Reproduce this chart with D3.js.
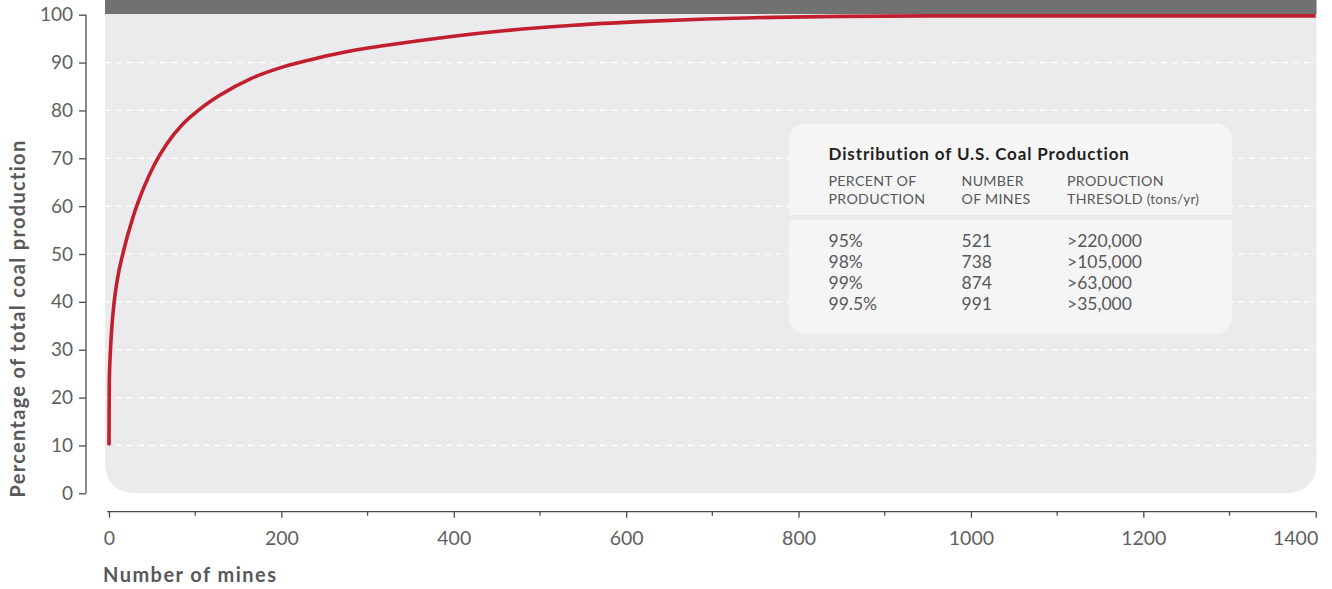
<!DOCTYPE html>
<html><head><meta charset="utf-8">
<script src="https://cdn.jsdelivr.net/npm/d3@7"></script>
<style>
html,body{margin:0;padding:0;background:#fff;}
svg{display:block;font-family:"Lato","Open Sans",sans-serif;}
</style></head>
<body>
<svg id="chart" width="1332" height="589"></svg>
<script>
// ---- data ----
const mines = [0, 0.3, 1.2, 3, 6, 10, 16, 28, 40, 53, 67, 86, 105, 128, 164, 202, 241, 280, 318, 357, 395, 461, 539, 616, 693, 770, 848, 950, 1100, 1250, 1400];
const percent = [10, 23, 28, 34, 40, 45, 50, 57.8, 63.7, 68.8, 73.0, 77.2, 80.2, 83.1, 86.6, 89.1, 90.9, 92.4, 93.5, 94.5, 95.4, 96.7, 97.8, 98.55, 99.1, 99.45, 99.65, 99.75, 99.75, 99.75, 99.75];
const xTicks = [0, 200, 400, 600, 800, 1000, 1200, 1400];
const xMinorTicks = [100, 300, 500, 700, 900, 1100, 1300];
const yTicks = [0, 10, 20, 30, 40, 50, 60, 70, 80, 90, 100];
const tableTitle = "Distribution of U.S. Coal Production";
const tableHeaders = [["PERCENT OF", "PRODUCTION"], ["NUMBER", "OF MINES"], ["PRODUCTION", "THRESOLD (tons/yr)"]];
const tablePercent = ["95%", "98%", "99%", "99.5%"];
const tableMines = ["521", "738", "874", "991"];
const tableThreshold = [">220,000", ">105,000", ">63,000", ">35,000"];
const xTitle = "Number of mines";
const yTitle = "Percentage of total coal production";

// ---- layout ----
const svg = d3.select("#chart");
const x = d3.scaleLinear().domain([0, 1400]).range([109, 1315.7]);
const y = d3.scaleLinear().domain([0, 100]).range([493.3, 14.7]);
const textCol = "#5f5f61";

function fitWidth(sel, target) {
  const n = sel.text().length;
  const L = sel.node().getComputedTextLength();
  sel.attr("letter-spacing", (target - L) / (n - 1));
}

// panel with rounded bottom corners
const pL = 105, pR = 1316.5, pT = 0, pB = y(0), r = 32;
svg.append("path")
  .attr("d", `M${pL},${pT}H${pR}V${pB - r}Q${pR},${pB} ${pR - r},${pB}H${pL + r}Q${pL},${pB} ${pL},${pB - r}Z`)
  .attr("fill", "#ebebed");

// gridlines
svg.append("g").selectAll("line").data(yTicks.filter(d => d > 0 && d < 100)).join("line")
  .attr("x1", pL).attr("x2", pR)
  .attr("y1", d => y(d)).attr("y2", d => y(d))
  .attr("stroke", "#ffffff").attr("stroke-width", 1.2).attr("stroke-dasharray", "6,5");

// table box
const tb = {x: 789, y: 123.5, w: 443, h: 210};
svg.append("rect").attr("x", tb.x).attr("y", tb.y).attr("width", tb.w).attr("height", tb.h)
  .attr("rx", 16).attr("fill", "#f5f5f6");
svg.append("rect").attr("x", tb.x).attr("y", 215).attr("width", tb.w).attr("height", 5)
  .attr("fill", "#ebebed");

const colX = [828.5, 961.5, 1067];
const tt = svg.append("text").attr("x", colX[0]).attr("y", 159.5)
  .attr("font-size", 17).attr("font-weight", 700).attr("fill", "#231f20").text(tableTitle);
fitWidth(tt, 301);
tableHeaders.forEach((h, i) => {
  h.forEach((line, j) => {
    const t = svg.append("text").attr("x", colX[i]).attr("y", 186 + j * 18)
      .attr("font-size", 14.2).attr("fill", "#58585a").attr("letter-spacing", 0.3);
    if (line.includes("(")) {
      const k = line.indexOf("(");
      t.append("tspan").text(line.slice(0, k));
      t.append("tspan").attr("font-size", 13.5).attr("letter-spacing", 0.2).text(line.slice(k));
    } else t.text(line);
  });
});
[tablePercent, tableMines, tableThreshold].forEach((col, i) => {
  svg.append("g").selectAll("text").data(col).join("text")
    .attr("x", colX[i]).attr("y", (d, j) => 247 + j * 21)
    .attr("font-size", 17.5).attr("fill", "#58585a").text(d => d);
});

// curve
const pts = mines.map((m, i) => [m, percent[i]]);
svg.append("path").datum(pts)
  .attr("d", d3.line().x(d => x(d[0])).y(d => y(d[1])).curve(d3.curveMonotoneX))
  .attr("fill", "none").attr("stroke", "#c11f2e").attr("stroke-width", 3.6)
  .attr("stroke-linecap", "butt");

// dark top band
svg.append("rect").attr("x", pL).attr("y", 0).attr("width", pR - pL).attr("height", 14)
  .attr("fill", "#717171");

// y axis
const yAxis = svg.append("g").attr("transform", "translate(86,0)")
  .call(d3.axisLeft(y).tickValues(yTicks).tickSize(7).tickPadding(6).tickFormat(d3.format("d")));
yAxis.select(".domain").attr("stroke", "#4d4d4f").attr("stroke-width", 1.3).attr("d", `M0,${y(100)}V${y(0)}`);
yAxis.selectAll(".tick line").attr("stroke", "#4d4d4f").attr("stroke-width", 1.3);
yAxis.selectAll(".tick text").attr("font-size", 19).attr("fill", textCol).attr("font-family", "Lato");

// x axis
const xAxis = svg.append("g").attr("transform", "translate(0,511.7)")
  .call(d3.axisBottom(x).tickValues(xTicks).tickSize(6).tickPadding(13).tickFormat(d3.format("d")));
xAxis.select(".domain").attr("stroke", "#4d4d4f").attr("stroke-width", 1.3).attr("d", `M107,0H${x(1400)}`);
xAxis.selectAll(".tick line").attr("stroke", "#4d4d4f").attr("stroke-width", 1.3);
xAxis.selectAll(".tick text").attr("font-size", 19.5).attr("fill", textCol).attr("font-family", "Lato")
  .filter(d => d === 1400).attr("text-anchor", "end").attr("dx", 2);
svg.append("g").attr("transform", "translate(0,511.7)").selectAll("line").data(xMinorTicks).join("line")
  .attr("x1", d => x(d)).attr("x2", d => x(d)).attr("y1", 0).attr("y2", 4)
  .attr("stroke", "#4d4d4f").attr("stroke-width", 1.3);

// axis titles
const xt = svg.append("text").attr("x", 103).attr("y", 582)
  .attr("font-size", 20).attr("font-weight", 700).attr("fill", "#58585a").text(xTitle);
fitWidth(xt, 173);
const yt = svg.append("text").attr("transform", "translate(25,318.5) rotate(-90)").attr("text-anchor", "middle")
  .attr("font-size", 20).attr("font-weight", 700).attr("fill", "#58585a").text(yTitle);
fitWidth(yt, 357);
</script>
</body></html>
